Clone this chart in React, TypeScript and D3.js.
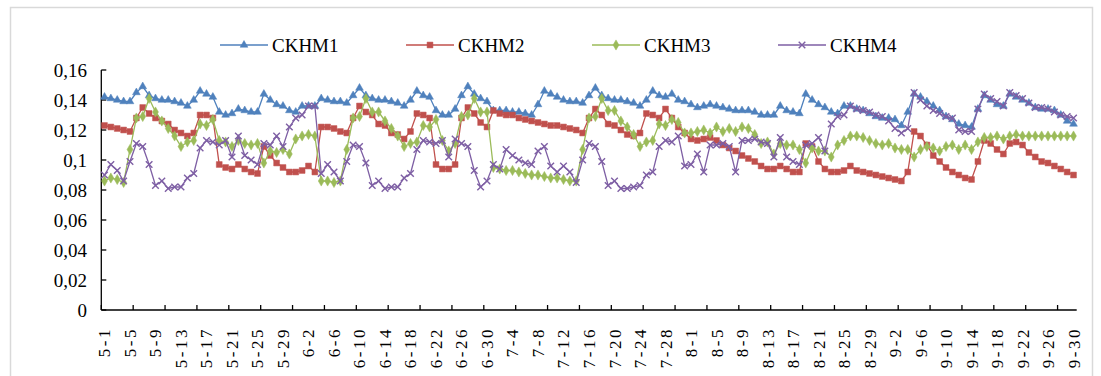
import React, { useRef, useEffect } from 'react';
import * as d3 from 'd3';

const seriesNames = ['CKHM1', 'CKHM2', 'CKHM3', 'CKHM4'];
const seriesColors = ['#4F81BD', '#C0504D', '#9BBB59', '#7E5FA4'];
const months = [5, 6, 7, 8, 9];
const monthDays = [31, 30, 31, 31, 30];
const yTicks = [0, 0.02, 0.04, 0.06, 0.08, 0.1, 0.12, 0.14, 0.16];

const ckhm1 = [
  0.142, 0.141, 0.140, 0.139, 0.139, 0.145, 0.149, 0.143, 0.141, 0.140,
  0.140, 0.139, 0.138, 0.136, 0.140, 0.146, 0.144, 0.142, 0.132, 0.130,
  0.131, 0.134, 0.133, 0.132, 0.132, 0.144, 0.140, 0.137, 0.136, 0.133,
  0.132, 0.136, 0.136, 0.136, 0.141, 0.140, 0.139, 0.139, 0.138, 0.143,
  0.148, 0.143, 0.141, 0.140, 0.140, 0.139, 0.138, 0.136, 0.140, 0.146,
  0.143, 0.142, 0.133, 0.130, 0.130, 0.134, 0.143, 0.149, 0.144, 0.141,
  0.139, 0.133, 0.133, 0.133, 0.132, 0.132, 0.131, 0.130, 0.137, 0.146,
  0.144, 0.142, 0.140, 0.139, 0.139, 0.138, 0.143, 0.148, 0.143, 0.141,
  0.140, 0.140, 0.139, 0.138, 0.136, 0.140, 0.146, 0.143, 0.142, 0.144,
  0.140, 0.139, 0.137, 0.135, 0.136, 0.137, 0.136, 0.135, 0.134, 0.133,
  0.133, 0.133, 0.132, 0.130, 0.130, 0.130, 0.136, 0.133, 0.132, 0.131,
  0.144, 0.140, 0.137, 0.135, 0.132, 0.131, 0.136, 0.136, 0.134, 0.133,
  0.131, 0.129, 0.128, 0.128, 0.127, 0.123, 0.132, 0.144, 0.142, 0.139,
  0.136, 0.133, 0.129, 0.127, 0.124, 0.123, 0.122, 0.134, 0.143, 0.140,
  0.137, 0.136, 0.144, 0.142, 0.140, 0.138, 0.135, 0.134, 0.134, 0.133,
  0.130, 0.126, 0.124,
];

const ckhm2 = [
  0.123, 0.122, 0.121, 0.120, 0.119, 0.128, 0.135, 0.131, 0.128, 0.126,
  0.124, 0.120, 0.118, 0.116, 0.118, 0.130, 0.130, 0.128, 0.097, 0.095,
  0.094, 0.097, 0.094, 0.092, 0.091, 0.109, 0.103, 0.098, 0.095, 0.092,
  0.092, 0.093, 0.096, 0.092, 0.122, 0.122, 0.121, 0.119, 0.118, 0.128,
  0.136, 0.132, 0.130, 0.124, 0.123, 0.118, 0.117, 0.114, 0.119, 0.131,
  0.130, 0.128, 0.097, 0.094, 0.094, 0.097, 0.128, 0.135, 0.131, 0.125,
  0.122, 0.133, 0.131, 0.130, 0.130, 0.128, 0.127, 0.126, 0.125, 0.124,
  0.123, 0.123, 0.122, 0.121, 0.120, 0.118, 0.128, 0.134, 0.130, 0.124,
  0.123, 0.120, 0.117, 0.116, 0.118, 0.131, 0.130, 0.128, 0.134, 0.128,
  0.122, 0.118, 0.114, 0.113, 0.114, 0.115, 0.113, 0.110, 0.108, 0.106,
  0.103, 0.101, 0.099, 0.096, 0.094, 0.094, 0.096, 0.094, 0.092, 0.092,
  0.111, 0.109, 0.099, 0.094, 0.092, 0.092, 0.093, 0.096, 0.093, 0.092,
  0.091, 0.090, 0.089, 0.088, 0.087, 0.086, 0.092, 0.119, 0.116, 0.110,
  0.103, 0.099, 0.095, 0.092, 0.090, 0.088, 0.087, 0.099, 0.113, 0.111,
  0.107, 0.104, 0.111, 0.112, 0.110, 0.105, 0.102, 0.099, 0.098, 0.096,
  0.094, 0.092, 0.090,
];

const ckhm3 = [
  0.086, 0.088, 0.087, 0.085, 0.107, 0.128, 0.129, 0.141, 0.132, 0.126,
  0.121, 0.116, 0.109, 0.112, 0.113, 0.124, 0.123, 0.127, 0.113, 0.112,
  0.109, 0.113, 0.111, 0.110, 0.111, 0.098, 0.106, 0.105, 0.107, 0.104,
  0.114, 0.116, 0.117, 0.116, 0.086, 0.086, 0.085, 0.086, 0.107, 0.128,
  0.129, 0.141, 0.132, 0.132, 0.126, 0.121, 0.116, 0.109, 0.111, 0.112,
  0.123, 0.122, 0.127, 0.113, 0.106, 0.111, 0.129, 0.130, 0.141, 0.132,
  0.132, 0.095, 0.094, 0.093, 0.093, 0.092, 0.091, 0.090, 0.090, 0.089,
  0.088, 0.088, 0.087, 0.086, 0.086, 0.107, 0.128, 0.129, 0.141, 0.133,
  0.133, 0.126, 0.122, 0.117, 0.109, 0.112, 0.113, 0.124, 0.123, 0.127,
  0.125, 0.118, 0.118, 0.119, 0.120, 0.118, 0.122, 0.119, 0.121, 0.119,
  0.122, 0.121, 0.117, 0.111, 0.112, 0.104, 0.111, 0.110, 0.110, 0.107,
  0.098, 0.108, 0.106, 0.106, 0.102, 0.110, 0.113, 0.116, 0.116, 0.115,
  0.113, 0.111, 0.110, 0.111, 0.108, 0.107, 0.107, 0.102, 0.107, 0.109,
  0.108, 0.106, 0.109, 0.110, 0.107, 0.110, 0.107, 0.112, 0.115, 0.115,
  0.116, 0.114, 0.116, 0.117, 0.116, 0.116, 0.116, 0.116, 0.116, 0.116,
  0.116, 0.116, 0.116,
];

const ckhm4 = [
  0.090, 0.097, 0.093, 0.086, 0.099, 0.111, 0.109, 0.097, 0.083, 0.086,
  0.081, 0.082, 0.082, 0.088, 0.091, 0.108, 0.113, 0.112, 0.110, 0.113,
  0.102, 0.116, 0.103, 0.100, 0.097, 0.111, 0.110, 0.116, 0.109, 0.122,
  0.128, 0.130, 0.136, 0.136, 0.091, 0.097, 0.092, 0.086, 0.099, 0.110,
  0.109, 0.098, 0.083, 0.086, 0.081, 0.082, 0.082, 0.088, 0.091, 0.107,
  0.113, 0.112, 0.111, 0.113, 0.102, 0.114, 0.111, 0.109, 0.093, 0.082,
  0.086, 0.097, 0.094, 0.107, 0.103, 0.100, 0.098, 0.097, 0.106, 0.109,
  0.096, 0.092, 0.096, 0.092, 0.085, 0.100, 0.111, 0.109, 0.099, 0.083,
  0.086, 0.081, 0.081, 0.082, 0.083, 0.090, 0.092, 0.109, 0.113, 0.112,
  0.116, 0.096, 0.097, 0.104, 0.092, 0.110, 0.110, 0.111, 0.109, 0.092,
  0.113, 0.113, 0.114, 0.112, 0.111, 0.102, 0.115, 0.102, 0.099, 0.097,
  0.110, 0.111, 0.115, 0.106, 0.124, 0.129, 0.130, 0.136, 0.134, 0.133,
  0.132, 0.130, 0.129, 0.126, 0.121, 0.118, 0.121, 0.145, 0.140, 0.136,
  0.133, 0.131, 0.129, 0.128, 0.120, 0.119, 0.119, 0.134, 0.144, 0.141,
  0.139, 0.136, 0.145, 0.143, 0.141, 0.138, 0.135, 0.135, 0.134, 0.132,
  0.130, 0.129, 0.128,
];

const seriesValues = [ckhm1, ckhm2, ckhm3, ckhm4];
const symbols = [d3.symbolTriangle, d3.symbolSquare, d3.symbolDiamond, d3.symbolTimes];
const symbolSizes = [26, 34, 30, 30];

const categories = months.flatMap((m, k) => d3.range(1, monthDays[k] + 1).map(d => `${m}-${d}`));

const fmt = (v: number) => String(v).replace('.', ',');

const Chart: React.FC = () => {
  const svgRef = useRef<SVGSVGElement | null>(null);

  useEffect(() => {
    if (!svgRef.current) return;
    const svg = d3.select(svgRef.current);
    svg.selectAll('*').remove();

    const width = 1101;
    const height = 376;
    const left = 101.3, right = 1076.7, top = 70, bottom = 310;
    const font = '"Liberation Serif", "Times New Roman", serif';

    svg.attr('width', width).attr('height', height);

    svg.append('rect')
      .attr('x', 0).attr('y', 0).attr('width', width).attr('height', height)
      .attr('fill', '#fff');

    // chart frame
    svg.append('rect')
      .attr('x', 10.5).attr('y', 7.5).attr('width', 1082).attr('height', 400)
      .attr('fill', 'none').attr('stroke', '#d9d9d9').attr('stroke-width', 1.5);

    const x = d3.scaleBand<string>().domain(categories).range([left, right]).padding(0);
    const cx = (c: string) => (x(c) ?? 0) + x.bandwidth() / 2;
    const y = d3.scaleLinear().domain([0, 0.16]).range([bottom, top]);

    // y axis
    const yAxis = svg.append('g');
    yAxis.append('line')
      .attr('x1', left).attr('x2', left).attr('y1', top).attr('y2', bottom)
      .attr('stroke', '#000').attr('stroke-width', 1.3);
    yAxis.selectAll('.ytick')
      .data(yTicks)
      .enter().append('line')
      .attr('x1', left).attr('x2', left + 5)
      .attr('y1', d => y(d)).attr('y2', d => y(d))
      .attr('stroke', '#000').attr('stroke-width', 1.3);
    yAxis.selectAll('.ylab')
      .data(yTicks)
      .enter().append('text')
      .attr('x', 87)
      .attr('y', d => y(d))
      .attr('dy', '0.35em')
      .attr('text-anchor', 'end')
      .attr('fill', '#000')
      .style('font-family', font)
      .style('font-size', '19px')
      .text(d => fmt(d));

    // x axis
    const xAxis = svg.append('g');
    xAxis.append('line')
      .attr('x1', left).attr('x2', right).attr('y1', bottom).attr('y2', bottom)
      .attr('stroke', '#000').attr('stroke-width', 1.3);
    const tickIdx = d3.range(0, categories.length + 1, 5);
    xAxis.selectAll('.xtick')
      .data(tickIdx)
      .enter().append('line')
      .attr('x1', d => left + d * x.step()).attr('x2', d => left + d * x.step())
      .attr('y1', bottom).attr('y2', bottom - 5)
      .attr('stroke', '#000').attr('stroke-width', 1.3);
    xAxis.selectAll('.xlab')
      .data(categories.filter((_, i) => i % 4 === 0))
      .enter().append('text')
      .attr('transform', d => `translate(${cx(d) + 6},${bottom + 17}) rotate(-90)`)
      .attr('text-anchor', 'end')
      .attr('fill', '#000')
      .style('font-family', font)
      .style('font-size', '17px')
      .style('letter-spacing', '2.5px')
      .text(d => d);

    // series
    seriesValues.forEach((vals, s) => {
      const g = svg.append('g');
      const line = d3.line<number>()
        .x((_, i) => cx(categories[i]))
        .y(d => y(d));
      g.append('path')
        .datum(vals)
        .attr('d', line)
        .attr('fill', 'none')
        .attr('stroke', seriesColors[s])
        .attr('stroke-width', 1.3);
      const sym = d3.symbol().type(symbols[s]).size(symbolSizes[s]);
      g.selectAll('path.m')
        .data(vals)
        .enter().append('path')
        .attr('class', 'm')
        .attr('transform', (d, i) => `translate(${cx(categories[i])},${y(d)})`)
        .attr('d', sym()!)
        .attr('fill', s === 3 ? 'none' : seriesColors[s])
        .attr('stroke', seriesColors[s])
        .attr('stroke-width', s === 3 ? 1.4 : 0.5);
    });

    // legend
    const legend = svg.append('g').attr('transform', 'translate(220, 45)');
    const items = legend.selectAll('.legend-item')
      .data(seriesNames)
      .enter().append('g')
      .attr('transform', (d, i) => `translate(${i * 186}, 0)`);
    items.append('line')
      .attr('x1', 0).attr('x2', 48).attr('y1', 0).attr('y2', 0)
      .attr('stroke', (d, i) => seriesColors[i]).attr('stroke-width', 1.3);
    items.append('path')
      .attr('transform', 'translate(24,0)')
      .attr('d', (d, i) => d3.symbol().type(symbols[i]).size(symbolSizes[i])()!)
      .attr('fill', (d, i) => (i === 3 ? 'none' : seriesColors[i]))
      .attr('stroke', (d, i) => seriesColors[i])
      .attr('stroke-width', (d, i) => (i === 3 ? 1.4 : 0.5));
    items.append('text')
      .attr('x', 52)
      .attr('y', 0)
      .attr('dy', '0.35em')
      .attr('fill', '#000')
      .style('font-family', font)
      .style('font-size', '19px')
      .text(d => d);
  }, []);

  return <svg ref={svgRef} style={{ position: 'absolute', left: 0, top: 0 }}></svg>;
};

export default function App() {
  return <Chart />;
}
